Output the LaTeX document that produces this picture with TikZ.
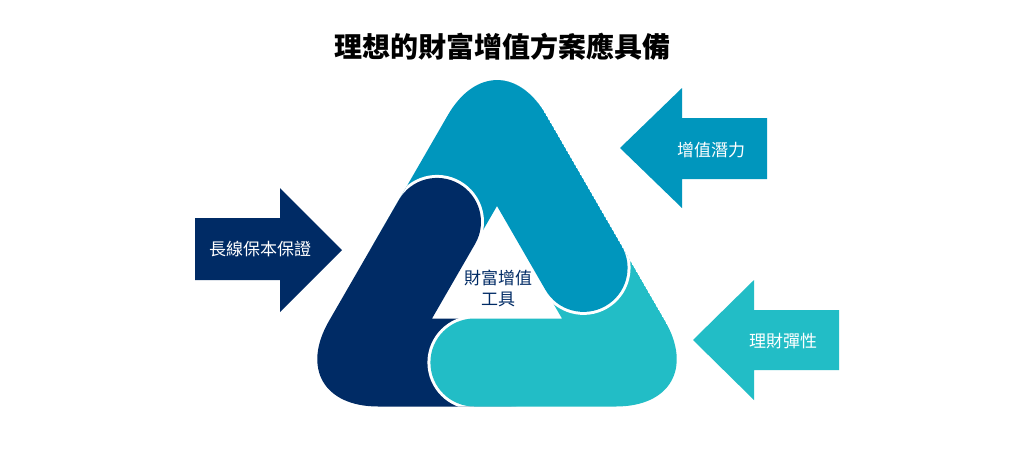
\documentclass[tikz,border=0pt]{standalone}
\usepackage{fontspec}
\usetikzlibrary{calc}
\newfontfamily\cjk{Noto Sans CJK TC}
\definecolor{navy}{HTML}{002B65}
\definecolor{cblue}{HTML}{0096BD}
\definecolor{cteal}{HTML}{22BDC6}
\begin{document}
\begin{tikzpicture}[x=1pt,y=-1pt,
  band/.style={line width=88pt,line cap=round,line join=miter},
  bandgap/.style={band,line width=94pt,draw=white},
  lbl/.style={text=white,font=\cjk\fontsize{17}{20}\selectfont,inner sep=0pt}]
\useasboundingbox[fill=white] (0,0) rectangle (1024,459);
% title
\node[font=\cjk\bfseries\fontsize{28}{32}\selectfont,text=black,inner sep=0pt] (title) at (502,47) {理想的財富增值方案應具備};
% triangle geometry (centre lines of the bands)
\coordinate (A) at (497,118);
\coordinate (B) at (355.8,362.5);
\coordinate (C) at (638.2,362.5);
% outer outline (rounded)
\coordinate (Ao) at (497,30);
\coordinate (Bo) at (279.6,406.5);
\coordinate (Co) at (714.4,406.5);
\coordinate (b1) at ($(A)!0.6!(B)$);
\coordinate (b2) at ($(A)!0.613!(C)$);
\coordinate (n1) at ($(B)!0.575!(A)$);
\coordinate (n2) at ($(B)!0.55!(C)$);
\coordinate (t1) at ($(C)!0.58!(B)$);
\coordinate (t2) at ($(C)!0.5!(A)$);
\begin{scope}
\clip[rounded corners=98.7pt] (Ao) -- (Bo) -- (Co) -- cycle;
% blue band
\draw[bandgap] (b1) -- (A) -- (b2);
\draw[band,draw=cblue] (b1) -- (A) -- (b2);
% navy band
\draw[bandgap] (n1) -- (B) -- (n2);
\draw[band,draw=navy] (n1) -- (B) -- (n2);
% teal band
\draw[bandgap] (t1) -- (C) -- (t2);
\draw[band,draw=cteal] (t1) -- (C) -- (t2);
% blue over teal on the right side
\clip (500,0) rectangle (1024,459);
\draw[bandgap] (b1) -- (A) -- (b2);
\draw[band,draw=cblue] (b1) -- (A) -- (b2);
\end{scope}
\node[text=navy,font=\cjk\fontsize{17}{21}\selectfont,align=center,inner sep=0pt] (core) at (498,288) {財富增值\\工具};
% arrows
\fill[navy] (195,218) -- (280,218) -- (280,188) -- (342,250) -- (280,312) -- (280,280) -- (195,280) -- cycle;
\node[lbl] (a1) at (260,249) {長線保本保證};
\fill[cblue] (767,118) -- (682,118) -- (682,88) -- (620,148) -- (682,208) -- (682,179) -- (767,179) -- cycle;
\node[lbl] (a2) at (711,150) {增值潛力};
\fill[cteal] (839,310) -- (754,310) -- (754,280) -- (693,340) -- (754,400) -- (754,370) -- (839,370) -- cycle;
\node[lbl] (a3) at (783,341) {理財彈性};
\end{tikzpicture}
\end{document}
